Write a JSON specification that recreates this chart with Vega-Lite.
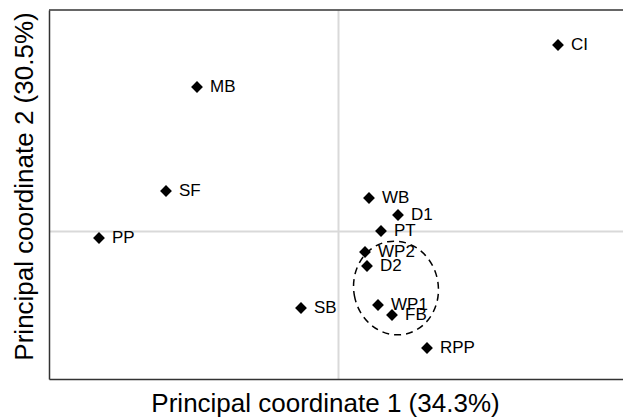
{
  "$schema": "https://vega.github.io/schema/vega-lite/v6.json",
  "width": 574,
  "height": 369,
  "autosize": {"type": "none"},
  "padding": {"left": 49, "top": 10, "right": 0, "bottom": 41},
  "config": {"view": {"stroke": null}, "font": "Liberation Sans"},
  "datasets": {
    "pts": [
      {"site": "CI", "x": 0.220, "y": 0.186},
      {"site": "MB", "x": -0.141, "y": 0.144},
      {"site": "SF", "x": -0.172, "y": 0.040},
      {"site": "PP", "x": -0.239, "y": -0.007},
      {"site": "SB", "x": -0.037, "y": -0.077},
      {"site": "WB", "x": 0.031, "y": 0.033},
      {"site": "D1", "x": 0.060, "y": 0.016},
      {"site": "PT", "x": 0.043, "y": 0.000},
      {"site": "WP2", "x": 0.027, "y": -0.021},
      {"site": "D2", "x": 0.029, "y": -0.035},
      {"site": "WP1", "x": 0.040, "y": -0.074},
      {"site": "FB", "x": 0.054, "y": -0.084},
      {"site": "RPP", "x": 0.089, "y": -0.117}
    ],
    "group": [{"x": 0.058, "y": -0.057}],
    "frame": [{"top": 0.221}]
  },
  "layer": [
    {
      "data": {"name": "pts"},
      "mark": {"type": "point", "shape": "diamond", "filled": true, "color": "#000", "size": 140, "opacity": 1},
      "encoding": {
        "x": {
          "field": "x", "type": "quantitative",
          "scale": {"domain": [-0.289, 0.285], "nice": false, "zero": false},
          "axis": {"values": [0], "grid": true, "gridColor": "#d9d9d9", "gridWidth": 2, "ticks": false, "labels": false,
                   "domainColor": "#333", "domainWidth": 1.5, "title": "Principal coordinate 1 (34.3%)",
                   "titleFontSize": 26, "titleFontWeight": "normal", "titleColor": "#000", "titlePadding": 11, "titleX": 276}
        },
        "y": {
          "field": "y", "type": "quantitative",
          "scale": {"domain": [-0.148, 0.221], "nice": false, "zero": false},
          "axis": {"values": [0], "grid": true, "gridColor": "#d9d9d9", "gridWidth": 2, "ticks": false, "labels": false,
                   "domainColor": "#333", "domainWidth": 1.5, "title": "Principal coordinate 2 (30.5%)",
                   "titleFontSize": 26, "titleFontWeight": "normal", "titleColor": "#000", "titlePadding": 12, "titleY": 176}
        }
      }
    },
    {
      "data": {"name": "pts"},
      "mark": {"type": "text", "align": "left", "baseline": "middle", "dx": 13, "fontSize": 17, "color": "#000"},
      "encoding": {
        "x": {"field": "x", "type": "quantitative"},
        "y": {"field": "y", "type": "quantitative"},
        "text": {"field": "site"}
      }
    },
    {
      "data": {"name": "group"},
      "mark": {"type": "point", "shape": "M -0.9 0 A 0.9 1 0 1 0 0.9 0 A 0.9 1 0 1 0 -0.9 0 Z", "size": 8836,
               "filled": false, "stroke": "#000", "strokeWidth": 1.5, "strokeDash": [7, 5], "angle": 350, "opacity": 1},
      "encoding": {
        "x": {"field": "x", "type": "quantitative"},
        "y": {"field": "y", "type": "quantitative"}
      }
    },
    {
      "data": {"name": "frame"},
      "mark": {"type": "rule", "color": "#333", "strokeWidth": 1.5},
      "encoding": {
        "y": {"field": "top", "type": "quantitative", "title": "Principal coordinate 2 (30.5%)"}
      }
    }
  ]
}
